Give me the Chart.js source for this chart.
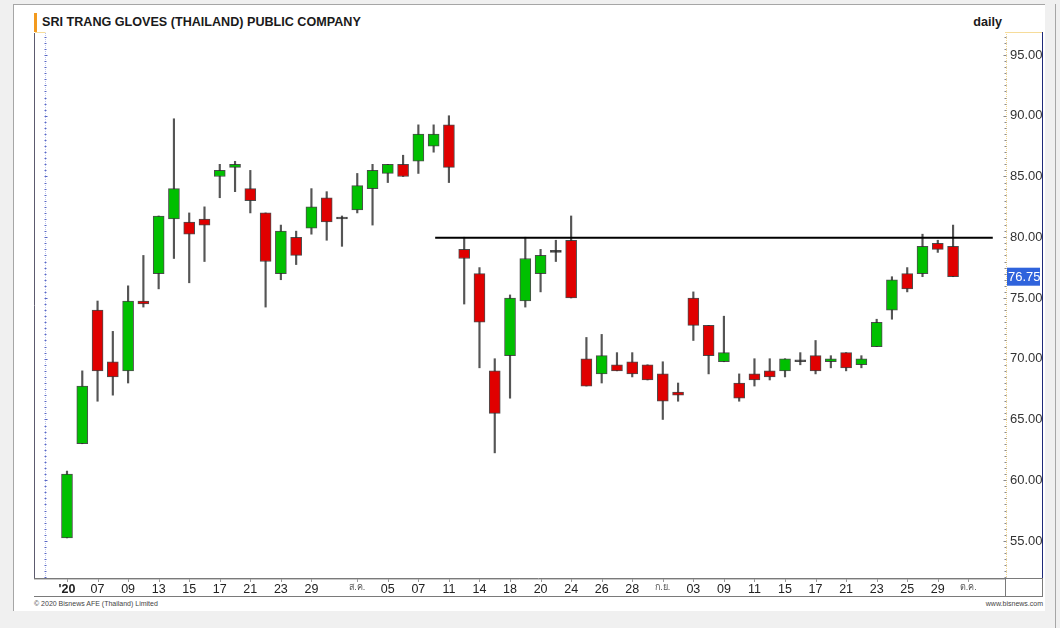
<!DOCTYPE html>
<html>
<head>
<meta charset="utf-8">
<script src="https://cdn.jsdelivr.net/npm/chart.js@4.4.1/dist/chart.umd.min.js"></script>
<style>
  html, body { margin: 0; padding: 0; background: #f0f0f0; }
  #wrap { position: relative; width: 1060px; height: 628px; overflow: hidden; font-family: 'Liberation Sans', Arial, sans-serif; }
  .abs { position: absolute; }
  #panel { left: 13px; top: 4px; width: 1031px; height: 606px; background: #fff; border-left: 1px solid #a6a6a6; border-top: 1px solid #a6a6a6; }
  #outerR { left: 1055px; top: 4px; width: 1px; height: 624px; background: #a6a6a6; }
  #title { left: 42px; top: 15px; font-size: 12.6px; font-weight: bold; color: #1a1a1a; }
  #titleBar { left: 34px; top: 13px; width: 3px; height: 19px; background: #f39a1e; }
  #daily { left: 960px; width: 42px; top: 15px; text-align: right; font-size: 12.6px; font-weight: bold; color: #1a1a1a; }
  #copy { left: 34px; top: 600px; font-size: 7px; color: #444; }
  #site { left: 943px; width: 100px; top: 600px; text-align: right; font-size: 7px; color: #444; }
  canvas { position: absolute; left: 0; top: 0; }
</style>
</head>
<body>
<div id="wrap">
  <div id="panel" class="abs"></div>
  <div id="outerR" class="abs"></div>
  <div id="titleBar" class="abs"></div>
  <div id="title" class="abs">SRI TRANG GLOVES (THAILAND) PUBLIC COMPANY</div>
  <div id="daily" class="abs">daily</div>
  <div id="copy" class="abs">© 2020 Bisnews AFE (Thailand) Limited</div>
  <div id="site" class="abs">www.bisnews.com</div>
  <canvas id="myChart" width="1060" height="628"></canvas>
</div>
<script>
// daily candles, one per trading day (index 0 = first day)
const openP  = [55.25, 63.0, 74.0, 69.75, 69.0, 74.75, 77.0, 81.5, 81.25, 81.5,
                85.0, 85.75, 84.0, 82.0, 77.0, 80.0, 80.75, 83.25, 81.5, 82.25,
                84.0, 85.25, 86.0, 86.25, 87.5, 89.25, 79.0, 77.0, 69.0, 70.25,
                74.75, 77.0, 78.75, 79.75, 70.0, 68.75, 69.5, 69.75, 69.5, 68.75,
                67.25, 75.0, 72.75, 69.75, 68.0, 68.75, 69.0, 69.0, 69.75, 70.25,
                69.75, 70.5, 69.5, 71.0, 74.0, 77.0, 77.0, 79.5, 79.25];
const highP  = [60.75, 69.0, 74.75, 72.25, 76.0, 78.5, 81.75, 89.75, 82.0, 82.5,
                86.0, 86.25, 85.5, 82.0, 81.0, 80.5, 84.0, 83.75, 81.75, 85.25,
                86.0, 86.0, 86.75, 89.25, 89.25, 90.0, 80.0, 77.5, 70.0, 75.25,
                80.0, 79.0, 79.75, 81.75, 71.75, 72.0, 70.5, 70.5, 69.5, 69.75,
                68.0, 75.5, 72.75, 73.5, 68.75, 70.0, 70.0, 70.0, 70.5, 71.5,
                70.25, 70.5, 70.25, 73.25, 76.75, 77.5, 80.25, 79.75, 81.0];
const lowP   = [55.25, 63.0, 66.5, 67.0, 68.0, 74.25, 75.75, 78.25, 76.25, 78.0,
                83.25, 83.75, 82.0, 74.25, 76.5, 77.75, 80.25, 79.75, 79.25, 82.0,
                81.0, 84.5, 85.0, 85.25, 87.0, 84.5, 74.5, 69.25, 62.25, 66.75,
                74.25, 75.5, 78.0, 75.0, 67.75, 68.0, 69.0, 68.5, 68.25, 65.0,
                66.5, 71.5, 68.75, 69.75, 66.5, 67.75, 68.25, 68.5, 69.5, 68.75,
                69.25, 69.0, 69.25, 71.0, 73.25, 75.5, 76.75, 78.75, 76.75];
const closeP = [60.5, 67.75, 69.0, 68.5, 74.75, 74.5, 81.75, 84.0, 80.25, 81.0,
                85.5, 86.0, 83.0, 78.0, 80.5, 78.5, 82.5, 81.25, 81.5, 84.25,
                85.5, 86.0, 85.0, 88.5, 88.5, 85.75, 78.25, 73.0, 65.5, 75.0,
                78.25, 78.5, 78.75, 75.0, 67.75, 70.25, 69.0, 68.75, 68.25, 66.5,
                67.0, 72.75, 70.25, 70.5, 66.75, 68.25, 68.5, 70.0, 69.75, 69.0,
                70.0, 69.25, 70.0, 73.0, 76.5, 75.75, 79.25, 79.0, 76.75];

// resistance line drawn on the chart
const trendX = [24.1, 60.6];
const trendY = [79.95, 79.95];

// bottom axis labels (day of month, month names in Thai)
const xTickIdx  = [0, 2, 4, 6, 8, 10, 12, 14, 16, 19, 21, 23, 25, 27, 29,
                   31, 33, 35, 37, 39, 41, 43, 45, 47, 49, 51, 53, 55, 57, 59];
const xTickText = ["'20", "07", "09", "13", "15", "17", "21", "23", "29", "ส.ค.",
                   "05", "07", "11", "14", "18", "20", "24", "26", "28", "ก.ย.",
                   "03", "09", "11", "15", "17", "21", "23", "25", "29", "ต.ค."];
const yTicks = [55, 60, 65, 70, 75, 80, 85, 90, 95];

const FONT = "'Liberation Sans', Arial, sans-serif";
const UP = '#00c000', DOWN = '#e00000';

const bodies = openP.map((o, i) => ({ x: i, y: [o, closeP[i]] }));
const wicks = lowP.map((l, i) => ({ x: i, y: [l, highP[i]] }));
const bodyColors = openP.map((o, i) => closeP[i] > o ? UP : (closeP[i] < o ? DOWN : '#222'));
const lastPrice = closeP[closeP.length - 1];

const isThai = (s) => /[\u0E00-\u0E7F]/.test(s);

const deco = {
    id: 'deco',
    afterDraw(chart) {
        const ctx = chart.ctx;
        const ca = chart.chartArea;
        const y = chart.scales.y;
        const x = chart.scales.x;
        const axR = y.right;
        const stripB = x.bottom;
        ctx.save();
        ctx.lineWidth = 1;

        // left dotted axis
        const lx = ca.left + 11.5;
        ctx.strokeStyle = '#b9c2ee';
        ctx.setLineDash([1, 1]);
        ctx.beginPath(); ctx.moveTo(lx, ca.top); ctx.lineTo(lx, ca.bottom); ctx.stroke();
        // right dotted axis
        const rx = ca.right + 0.5;
        ctx.strokeStyle = '#f2d58e';
        ctx.beginPath(); ctx.moveTo(rx + 1, ca.top - 1); ctx.lineTo(rx + 1, ca.bottom); ctx.stroke();
        ctx.setLineDash([]);

        // small ticks every half point on both side lines
        for (let v = 52; v <= 96.5; v += 0.5) {
            const py = Math.round(y.getPixelForValue(v)) + 0.5;
            const major = v % 5 === 0;
            ctx.strokeStyle = '#5866c4';
            ctx.beginPath(); ctx.moveTo(lx - 1, py); ctx.lineTo(lx + (major ? 2 : 1), py); ctx.stroke();
            ctx.strokeStyle = '#8a8a8a';
            ctx.beginPath(); ctx.moveTo(rx - (major ? 2 : 1), py); ctx.lineTo(rx + 1, py); ctx.stroke();
        }

        // frame lines
        ctx.strokeStyle = '#f6dc9a';
        ctx.beginPath(); ctx.moveTo(ca.left + 1, ca.top - 0.5); ctx.lineTo(lx, ca.top - 0.5); ctx.stroke();
        ctx.beginPath(); ctx.moveTo(ca.right, ca.top - 0.5); ctx.lineTo(axR, ca.top - 0.5); ctx.stroke();
        ctx.strokeStyle = '#5c5a6e';
        ctx.beginPath(); ctx.moveTo(ca.left + 0.5, ca.top); ctx.lineTo(ca.left + 0.5, ca.bottom); ctx.stroke();
        ctx.strokeStyle = '#1f2a7a';
        ctx.beginPath(); ctx.moveTo(axR - 0.5, ca.top - 1); ctx.lineTo(axR - 0.5, ca.bottom); ctx.stroke();
        ctx.strokeStyle = '#7a7a7a';
        ctx.beginPath();
        ctx.moveTo(ca.left, ca.bottom + 0.5); ctx.lineTo(axR, ca.bottom + 0.5);
        ctx.moveTo(ca.left, stripB - 0.5); ctx.lineTo(axR, stripB - 0.5);
        ctx.moveTo(rx, ca.bottom); ctx.lineTo(rx, stripB);
        ctx.moveTo(axR - 0.5, ca.bottom); ctx.lineTo(axR - 0.5, stripB);
        ctx.stroke();
        ctx.strokeStyle = '#c8c8c8';
        ctx.beginPath(); ctx.moveTo(ca.left, ca.bottom + 1.5); ctx.lineTo(ca.right, ca.bottom + 1.5); ctx.stroke();

        // tick marks under the plot
        ctx.strokeStyle = '#9a9a9a';
        xTickIdx.forEach((v) => {
            const px = Math.round(x.getPixelForValue(v)) + 0.5;
            ctx.beginPath(); ctx.moveTo(px, ca.bottom + 1); ctx.lineTo(px, ca.bottom + 4); ctx.stroke();
        });

        // last price marker
        const py = y.getPixelForValue(lastPrice);
        ctx.fillStyle = '#2f63dc';
        ctx.fillRect(ca.right + 2, py - 9, 33, 18);
        ctx.fillStyle = '#fff';
        ctx.font = '13px ' + FONT;
        ctx.textBaseline = 'middle';
        ctx.textAlign = 'left';
        ctx.fillText(lastPrice.toFixed(2), ca.right + 3, py + 1);
        ctx.restore();
    }
};

const myChart = new Chart(document.getElementById('myChart').getContext('2d'), {
    type: 'bar',
    data: {
        datasets: [{
            type: 'line',
            data: trendX.map((v, i) => ({ x: v, y: trendY[i] })),
            borderColor: '#000',
            borderWidth: 2,
            pointRadius: 0,
            order: 0
        }, {
            data: bodies,
            backgroundColor: bodyColors,
            borderColor: 'rgba(45,45,45,0.85)',
            borderWidth: 1,
            borderSkipped: false,
            barThickness: 11,
            minBarLength: 2,
            grouped: false,
            order: 1
        }, {
            data: wicks,
            backgroundColor: '#555',
            borderWidth: 0,
            barThickness: 1.5,
            grouped: false,
            order: 2
        }]
    },
    options: {
        responsive: false,
        animation: false,
        events: [],
        layout: { padding: { left: 34, top: 33, right: 17, bottom: 31 } },
        plugins: { legend: { display: false }, tooltip: { enabled: false } },
        scales: {
            x: {
                type: 'linear',
                position: 'bottom',
                offset: false,
                min: -2.16,
                max: 61.4,
                afterBuildTicks: (s) => { s.ticks = xTickIdx.map((v) => ({ value: v })); },
                afterFit: (s) => { s.height = 19; },
                grid: { display: false, drawTicks: false, offset: false },
                border: { display: false },
                ticks: {
                    autoSkip: false,
                    maxRotation: 0,
                    padding: 4,
                    callback: (v, i) => xTickText[i],
                    color: (c) => isThai(xTickText[c.index] || '') ? '#555' : '#222',
                    font: (c) => {
                        const t = xTickText[c.index] || '';
                        if (isThai(t)) return { size: 9, family: FONT };
                        return { size: 12.5, family: FONT, weight: t === "'20" ? 'bold' : 'normal' };
                    }
                }
            },
            y: {
                position: 'right',
                min: 51.95,
                max: 96.81,
                afterBuildTicks: (s) => { s.ticks = yTicks.map((v) => ({ value: v })); },
                afterFit: (s) => { s.width = 38; },
                grid: { display: false, drawTicks: false },
                border: { display: false },
                ticks: {
                    padding: 5,
                    color: '#333',
                    font: { size: 13, family: FONT },
                    callback: (v) => Number(v).toFixed(2)
                }
            }
        }
    },
    plugins: [deco]
});
</script>
</body>
</html>
